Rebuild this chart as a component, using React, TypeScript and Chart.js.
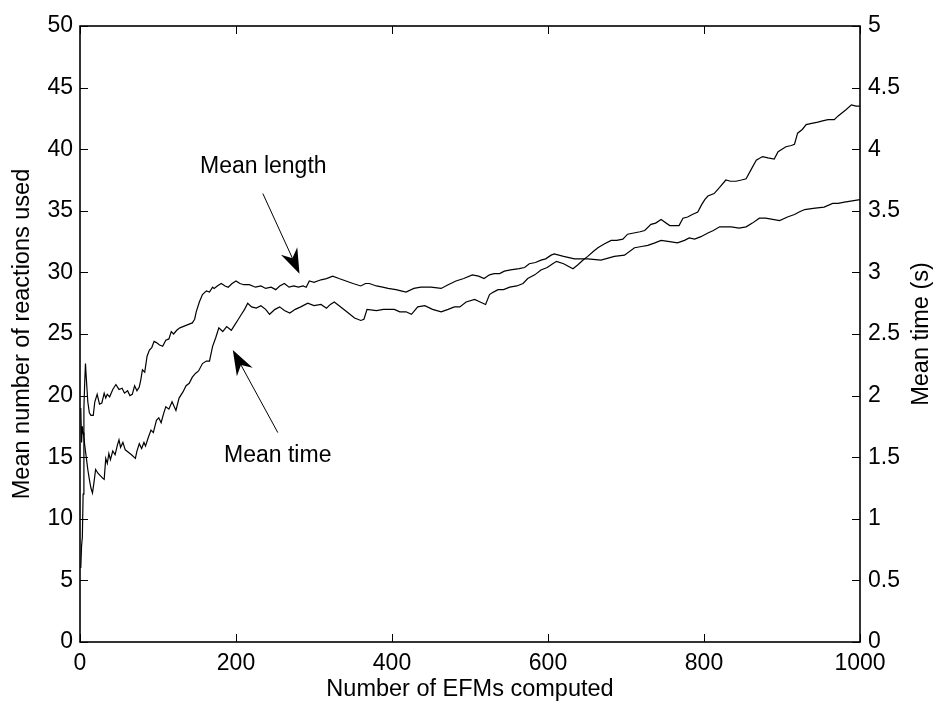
import React, { useEffect, useRef } from "react";
import { Chart, registerables } from "chart.js";
Chart.register(...registerables);

// Mean length (number of reactions used) — left axis
const lengthX = [1, 2, 3, 4, 5, 6, 7, 8, 10, 12, 14, 17, 19, 22, 25, 28, 31, 33, 35, 38, 42, 46, 50, 54, 57, 61, 64, 67, 70, 73, 76, 78, 80, 83, 86, 89, 92, 95, 98, 102, 106, 110, 114, 117, 120, 124, 128, 132, 136, 140, 144, 147, 149, 153, 157, 162, 166, 170, 172, 176, 181, 186, 190, 195, 200, 205, 210, 217, 225, 232, 238, 245, 251, 256, 262, 268, 274, 280, 286, 290, 294, 300, 309, 316, 324, 332, 341, 350, 360, 366, 371, 380, 388, 395, 405, 418, 428, 437, 450, 463, 472, 482, 492, 503, 511, 518, 525, 531, 538, 544, 552, 563, 570, 576, 584, 591, 597, 604, 608, 620, 634, 651, 668, 685, 698, 711, 720, 728, 737, 745, 756, 766, 775, 781, 788, 796, 805, 812, 820, 828, 835, 845, 854, 862, 871, 879, 888, 897, 907, 916, 922, 929, 940, 954, 965, 972, 980, 990, 1000];
const lengthY = [6.0, 7.8, 8.5, 12, 19, 21, 22.6, 21.5, 19.5, 18.6, 18.4, 18.4, 19.5, 20.1, 19.3, 19.4, 20.2, 19.8, 20.1, 19.9, 20.5, 20.9, 20.5, 20.6, 20.2, 20.4, 20.0, 20.1, 20.8, 20.4, 20.7, 21.3, 22.1, 21.9, 23.2, 23.7, 23.9, 24.4, 24.3, 24.1, 24.0, 24.5, 24.6, 25.2, 25.0, 25.3, 25.5, 25.6, 25.7, 25.8, 25.9, 26.2, 26.8, 27.6, 28.2, 28.5, 28.4, 28.8, 28.7, 28.9, 29.1, 28.9, 28.8, 29.1, 29.3, 29.1, 29.0, 29.0, 28.8, 28.9, 28.7, 28.8, 28.6, 28.9, 29.1, 28.8, 28.9, 28.8, 28.9, 28.8, 29.3, 29.2, 29.4, 29.5, 29.7, 29.5, 29.3, 29.1, 28.9, 29.1, 29.1, 28.9, 28.8, 28.7, 28.6, 28.4, 28.7, 28.8, 28.8, 28.7, 29.0, 29.3, 29.5, 29.8, 29.7, 29.5, 29.8, 29.9, 29.9, 30.1, 30.2, 30.3, 30.4, 30.7, 30.8, 31.0, 31.1, 31.4, 31.5, 31.3, 31.1, 31.1, 31.0, 31.3, 31.4, 32.0, 32.1, 32.2, 32.4, 32.6, 32.5, 32.4, 32.6, 32.8, 32.7, 32.9, 33.2, 33.4, 33.7, 33.7, 33.7, 33.6, 33.7, 34.0, 34.4, 34.4, 34.3, 34.2, 34.5, 34.7, 34.9, 35.1, 35.2, 35.3, 35.6, 35.6, 35.7, 35.8, 35.9];

// Mean time (s) — right axis
const timeX = [1, 2, 3, 4, 5, 6, 8, 10, 12, 14, 16, 18, 20, 23, 26, 29, 31, 33, 35, 37, 39, 42, 45, 48, 50, 52, 55, 58, 62, 66, 71, 73, 76, 79, 82, 84, 87, 91, 94, 98, 101, 104, 107, 110, 114, 118, 123, 127, 132, 136, 140, 144, 148, 152, 157, 162, 166, 170, 174, 178, 183, 188, 194, 198, 202, 207, 211, 215, 220, 226, 232, 238, 243, 250, 256, 262, 269, 276, 283, 292, 300, 309, 316, 321, 326, 340, 352, 360, 364, 368, 380, 389, 395, 403, 410, 418, 425, 433, 442, 452, 463, 472, 480, 487, 495, 506, 513, 520, 525, 530, 536, 543, 551, 560, 568, 574, 583, 591, 599, 606, 611, 620, 632, 638, 645, 651, 658, 664, 672, 681, 688, 696, 702, 710, 718, 724, 732, 738, 745, 756, 768, 773, 779, 785, 792, 797, 801, 805, 813, 820, 828, 834, 841, 848, 854, 860, 867, 875, 882, 890, 895, 900, 905, 912, 916, 920, 926, 931, 938, 946, 952, 959, 967, 972, 976, 982, 989, 995, 1000];
const timeS = [1.9, 1.62, 1.75, 1.7, 1.67, 1.6, 1.5, 1.4, 1.32, 1.25, 1.21, 1.3, 1.4, 1.37, 1.35, 1.33, 1.32, 1.49, 1.45, 1.53, 1.48, 1.55, 1.52, 1.6, 1.64, 1.58, 1.62, 1.56, 1.54, 1.52, 1.49, 1.55, 1.61, 1.57, 1.62, 1.59, 1.65, 1.72, 1.7, 1.8, 1.82, 1.78, 1.85, 1.91, 1.89, 1.95, 1.88, 1.98, 2.03, 2.08, 2.1, 2.15, 2.18, 2.2, 2.26, 2.28, 2.28, 2.4, 2.47, 2.55, 2.52, 2.56, 2.53, 2.57, 2.61, 2.66, 2.7, 2.75, 2.72, 2.71, 2.73, 2.7, 2.66, 2.7, 2.72, 2.69, 2.67, 2.7, 2.72, 2.75, 2.73, 2.74, 2.71, 2.74, 2.76, 2.69, 2.63, 2.61, 2.62, 2.7, 2.69, 2.7, 2.7, 2.7, 2.68, 2.68, 2.66, 2.72, 2.73, 2.7, 2.68, 2.7, 2.72, 2.72, 2.76, 2.78, 2.76, 2.74, 2.82, 2.84, 2.86, 2.86, 2.88, 2.89, 2.91, 2.95, 2.98, 3.02, 3.04, 3.07, 3.09, 3.07, 3.03, 3.06, 3.1, 3.13, 3.17, 3.2, 3.23, 3.26, 3.26, 3.27, 3.31, 3.32, 3.33, 3.34, 3.39, 3.4, 3.43, 3.38, 3.38, 3.44, 3.45, 3.47, 3.49, 3.55, 3.59, 3.62, 3.64, 3.69, 3.75, 3.74, 3.74, 3.75, 3.76, 3.83, 3.91, 3.94, 3.93, 3.92, 3.98, 4.0, 4.02, 4.03, 4.04, 4.13, 4.16, 4.2, 4.21, 4.22, 4.23, 4.24, 4.24, 4.27, 4.29, 4.32, 4.36, 4.35, 4.35];

const labelTexts = ["Mean length", "Mean time"];
const labelPos = [[235, 38.6], [253.5, 15.1]];
const arrowStart = [[234.4, 36.4], [253.6, 17.0]];
const arrowTip = [[281.4, 29.9], [195.9, 23.7]];
const rightTitle = "Mean time (s)";

const FONT = "'Liberation Sans', Arial, Helvetica, sans-serif";

const framePlugin = {
  id: "frame",
  afterDatasetsDraw(chart: any) {
    const { ctx, chartArea: a, scales } = chart;
    ctx.save();
    ctx.strokeStyle = "#000";
    ctx.lineWidth = 1;
    ctx.beginPath();
    scales.x.ticks.forEach((t: any) => {
      const px = Math.round(scales.x.getPixelForValue(t.value)) + 0.5;
      ctx.moveTo(px, a.bottom);
      ctx.lineTo(px, a.bottom - 8);
      ctx.moveTo(px, a.top);
      ctx.lineTo(px, a.top + 8);
    });
    scales.y.ticks.forEach((t: any) => {
      const py = Math.round(scales.y.getPixelForValue(t.value)) + 0.5;
      ctx.moveTo(a.left, py);
      ctx.lineTo(a.left + 8, py);
    });
    scales.y1.ticks.forEach((t: any) => {
      const py = Math.round(scales.y1.getPixelForValue(t.value)) + 0.5;
      ctx.moveTo(a.right, py);
      ctx.lineTo(a.right - 8, py);
    });
    ctx.stroke();
    ctx.lineWidth = 1.6;
    ctx.strokeRect(a.left, a.top, a.right - a.left, a.bottom - a.top);
    // right axis title, reading bottom-to-top like MATLAB
    ctx.fillStyle = "#000";
    ctx.font = `23.5px ${FONT}`;
    ctx.textAlign = "center";
    ctx.textBaseline = "middle";
    ctx.translate(922, (a.top + a.bottom) / 2);
    ctx.rotate(-Math.PI / 2);
    ctx.fillText(rightTitle, 0, 0);
    ctx.restore();
  },
};

const annotPlugin = {
  id: "annot",
  afterDatasetsDraw(chart: any) {
    const { ctx, scales } = chart;
    const X = (v: number) => scales.x.getPixelForValue(v);
    const Y = (v: number) => scales.y.getPixelForValue(v);
    ctx.save();
    ctx.fillStyle = "#000";
    ctx.strokeStyle = "#000";
    ctx.font = `23px ${FONT}`;
    ctx.textAlign = "center";
    ctx.textBaseline = "middle";
    labelTexts.forEach((t, i) => {
      ctx.fillText(t, X(labelPos[i][0]), Y(labelPos[i][1]));
    });
    arrowStart.forEach((s, i) => {
      const x0 = X(s[0]), y0 = Y(s[1]);
      const x1 = X(arrowTip[i][0]), y1 = Y(arrowTip[i][1]);
      const dx = x1 - x0, dy = y1 - y0;
      const len = Math.hypot(dx, dy);
      const ux = dx / len, uy = dy / len;
      const nx = -uy, ny = ux;
      const hl = 25, hw = 9, notch = 17;
      ctx.lineWidth = 1;
      ctx.beginPath();
      ctx.moveTo(x0, y0);
      ctx.lineTo(x1 - ux * notch, y1 - uy * notch);
      ctx.stroke();
      ctx.beginPath();
      ctx.moveTo(x1, y1);
      ctx.lineTo(x1 - ux * hl + nx * hw, y1 - uy * hl + ny * hw);
      ctx.lineTo(x1 - ux * notch, y1 - uy * notch);
      ctx.lineTo(x1 - ux * hl - nx * hw, y1 - uy * hl - ny * hw);
      ctx.closePath();
      ctx.fill();
    });
    ctx.restore();
  },
};

export default function App() {
  const ref = useRef<HTMLCanvasElement>(null);
  useEffect(() => {
    document.body.style.margin = "0";
    const tickFont = { family: FONT, size: 23 };
    const titleFont = { family: FONT, size: 23.5 };
    const chart = new Chart(ref.current as HTMLCanvasElement, {
      type: "line",
      data: {
        datasets: [
          {
            label: "Mean length",
            data: lengthX.map((x, i) => ({ x, y: lengthY[i] })),
            yAxisID: "y",
            borderColor: "#000",
            borderWidth: 1.2,
            pointRadius: 0,
            tension: 0,
            fill: false,
          },
          {
            label: "Mean time",
            data: timeX.map((x, i) => ({ x, y: timeS[i] })),
            yAxisID: "y1",
            borderColor: "#000",
            borderWidth: 1.2,
            pointRadius: 0,
            tension: 0,
            fill: false,
          },
        ],
      },
      options: {
        responsive: false,
        animation: false,
        events: [],
        layout: { padding: { top: 26, left: 0, right: 0, bottom: 0 } },
        plugins: { legend: { display: false }, tooltip: { enabled: false } },
        scales: {
          x: {
            type: "linear",
            min: 0,
            max: 1000,
            grid: { display: false, drawTicks: false },
            border: { display: false },
            ticks: { stepSize: 200, font: tickFont, color: "#000", padding: 8, maxRotation: 0, callback: (v: any) => String(v) },
            title: { display: true, text: "Number of EFMs computed", font: titleFont, color: "#000", padding: { top: 0, bottom: 5 } },
            afterFit: (s: any) => { s.height = 67; },
          },
          y: {
            position: "left",
            min: 0,
            max: 50,
            grid: { display: false, drawTicks: false },
            border: { display: false },
            ticks: { stepSize: 5, font: tickFont, color: "#000", padding: 7, callback: (v: any) => String(v) },
            title: { display: true, text: "Mean number of reactions used", font: titleFont, color: "#000", padding: { top: 8, bottom: 0 } },
            afterFit: (s: any) => { s.width = 80; },
          },
          y1: {
            position: "right",
            min: 0,
            max: 5,
            grid: { display: false, drawTicks: false },
            border: { display: false },
            ticks: { stepSize: 0.5, font: tickFont, color: "#000", padding: 8, callback: (v: any) => String(v) },
            title: { display: false },
            afterFit: (s: any) => { s.width = 77; },
          },
        },
      },
      plugins: [framePlugin, annotPlugin],
    });
    return () => chart.destroy();
  }, []);
  return (
    <div style={{ position: "absolute", left: 0, top: 0, width: 937, height: 709, background: "#fff" }}>
      <canvas ref={ref} width={937} height={709} style={{ display: "block" }} />
    </div>
  );
}
